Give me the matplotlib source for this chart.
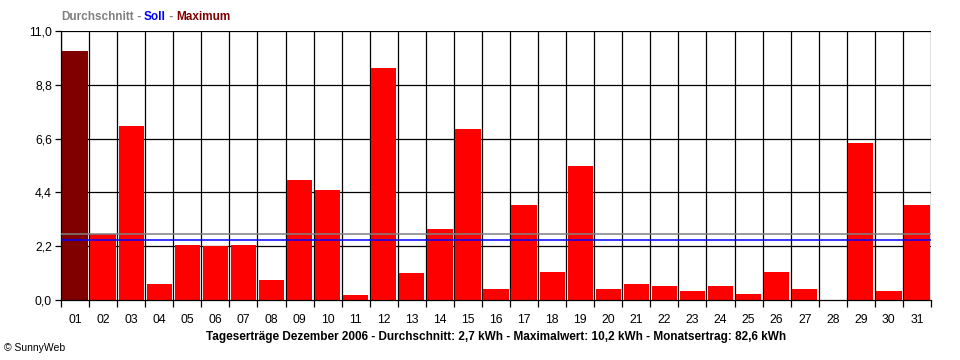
import matplotlib
matplotlib.use("Agg")
import matplotlib.pyplot as plt

days = ["%02d" % d for d in range(1, 32)]
yields = [10.2, 2.7, 7.1, 0.65, 2.25, 2.2, 2.25, 0.8, 4.9, 4.5, 0.2, 9.5, 1.1, 2.9, 7.0,
          0.45, 3.9, 1.15, 5.5, 0.45, 0.65, 0.57, 0.37, 0.57, 0.25, 1.15, 0.45, 0.0, 6.4, 0.37, 3.9]
average = 2.7
target = 2.45
y_ticks = [0.0, 2.2, 4.4, 6.6, 8.8, 11.0]
y_labels = ["0,0", "2,2", "4,4", "6,6", "8,8", "11,0"]
title = "Tageserträge Dezember 2006 - Durchschnitt: 2,7 kWh - Maximalwert: 10,2 kWh - Monatsertrag: 82,6 kWh"

plt.rcParams['font.family'] = ['Liberation Sans', 'DejaVu Sans']

W, H = 960, 360
fig = plt.figure(figsize=(W / 100, H / 100), dpi=100)
ax = fig.add_axes([61 / W, 1 - 300 / H, (931 - 61) / W, (300 - 31) / H])

n = len(days)
xs = list(range(n))
imax = yields.index(max(yields))
colors = ["#800000" if i == imax else "#ff0000" for i in xs]
ax.bar(xs, yields, width=0.9, color=colors, edgecolor="none", zorder=2, align="center")

ax.set_xlim(-0.5, n - 0.5)
ax.set_ylim(0, 11.0)

LW = 0.9
for k in range(n + 1):
    ax.axvline(k - 0.5, color="black", lw=LW, zorder=1)
for t in y_ticks[1:]:
    ax.axhline(t, color="black", lw=LW, zorder=1)

ax.axhline(average, color="#808080", lw=1.1, zorder=3)
ax.axhline(target, color="#0000ff", lw=1.1, zorder=3)

for s in ax.spines.values():
    s.set_visible(False)
ax.spines['left'].set_visible(True)
ax.spines['bottom'].set_visible(True)
ax.spines['left'].set_linewidth(LW)
ax.spines['bottom'].set_linewidth(LW)
ax.spines['bottom'].set_zorder(4)

ax.set_yticks(y_ticks)
ax.set_yticklabels(y_labels)
ax.set_xticks([k - 0.5 for k in range(n + 1)], minor=False)
ax.set_xticklabels([""] * (n + 1))
ax.set_xticks(xs, minor=True)
ax.set_xticklabels(days, minor=True)
ax.tick_params(axis='x', which='major', length=5, width=LW, direction='out')
ax.tick_params(axis='x', which='minor', length=0, pad=10, labelsize=8.8)
ax.tick_params(axis='y', length=4.5, width=LW, direction='out', labelsize=8.8, pad=2)

fig.text((61 + 931) / 2 / W, 1 - 337 / H, title, ha='center', va='center',
         fontsize=8.5, fontweight='bold')
fig.text(4 / W, 1 - 348 / H, "© SunnyWeb", ha='left', va='center', fontsize=7.5)

parts = [("Durchschnitt", "#808080"), (" - ", "#808080"), ("Soll", "#0000ff"),
         (" - ", "#808080"), ("Maximum", "#800000")]
fig.canvas.draw()
r = fig.canvas.get_renderer()
x = 61
for txt, c in parts:
    t = fig.text(x / W, 1 - 17 / H, txt, ha='left', va='center', fontsize=8.5,
                 fontweight='bold', color=c)
    bb = t.get_window_extent(renderer=r)
    x += bb.width

fig.savefig("out.png", dpi=100, facecolor="white")
